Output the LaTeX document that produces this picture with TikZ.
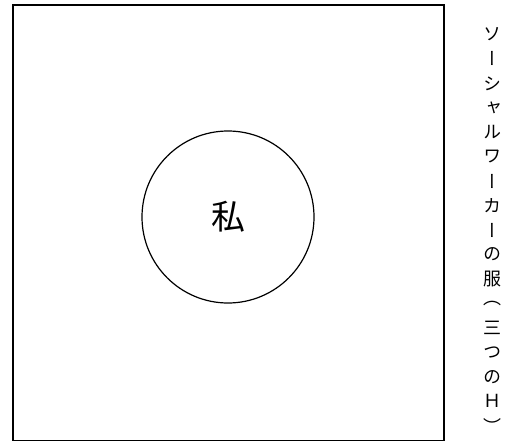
\documentclass[tikz,border=0pt]{standalone}
\usepackage{fontspec}
\usepackage{tikz}
\newfontfamily\jpfont{Noto Sans CJK JP}
\newfontfamily\jpvert[RawFeature=+vert]{Noto Sans CJK JP}
\begin{document}
\begin{tikzpicture}[x=1pt, y=-1pt, frame/.style={draw, line width=1.7pt}, self/.style={draw, circle, line width=1.2pt, minimum size=172pt, inner sep=0pt, font=\jpfont\fontsize{34}{34}\selectfont}, vchar/.style={inner sep=0pt, minimum size=15pt, font=\jpvert\fontsize{18}{18}\selectfont}]
\useasboundingbox (0,0) rectangle (513,442);
\draw[frame] (13,5) rectangle (444,440.5);
\node[self] (me) at (228,217) {私};
\foreach \ch [count=\i] in {ソ,ー,シ,ャ,ル,ワ,ー,カ,ー,の,服,（,三,つ,の,Ｈ,）}
  \node[vchar] (t\i) at (492, {34.5+24.45*(\i-1)}) {\ch};
\end{tikzpicture}
\end{document}
